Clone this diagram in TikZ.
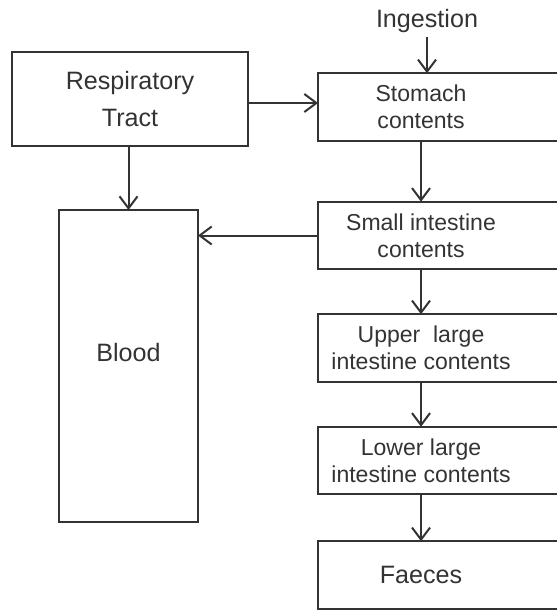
\documentclass[tikz,border=0pt]{standalone}
\usepackage{fontspec}
\setmainfont{Liberation Sans}
\usetikzlibrary{arrows.meta}

\begin{document}
\begin{tikzpicture}[x=0.2mm, y=-0.2mm,
  line width=0.4mm, color=black!80,
  box/.style={draw, rectangle, outer sep=0pt, align=center,
              font=\fontsize{14.3}{21.5}\selectfont},
  gut/.style={rectangle, outer sep=0pt, align=center,
              minimum width=41.2mm, minimum height=13.5mm,
              font=\fontsize{13.1}{15.6}\selectfont},
  flow/.style={-{Straight Barb[length=2.4mm, width=3.6mm]}}
]
  \useasboundingbox (0,0) rectangle (556,610);

  % left column
  \node[box, minimum width=47mm, minimum height=18.8mm] (resp) at (130,99) {Respiratory\\Tract};
  \node[box, minimum width=27.8mm, minimum height=62.4mm, text depth=5.6mm] (blood) at (128.5,366) {Blood};

  % gut compartments, boxes run off the right edge
  \node[inner sep=2pt, font=\fontsize{14.3}{17}\selectfont] (ingestion) at (427,21) {Ingestion};
  \node[gut] (stomach) at (421,107) {Stomach\\contents};
  \node[gut] (small) at (421,235.5) {Small intestine\\contents};
  \node[gut] (upper) at (421,348) {Upper\ \ large\\intestine contents};
  \node[gut] (lower) at (421,460.5) {Lower large\\intestine contents};
  \node[gut, font=\fontsize{14.3}{17}\selectfont] (faeces) at (421,575) {Faeces};

  \foreach \n in {stomach, small, upper, lower, faeces}
    \draw ([xshift=2cm]\n.north east) -- (\n.north west) -- (\n.south west) -- ([xshift=2cm]\n.south east);

  % transfers
  \draw[flow] (ingestion) -- (ingestion |- stomach.north);
  \draw[flow] ([yshift=-0.8mm]resp.east) -- ([yshift=-0.8mm]resp.east -| stomach.west);
  \draw[flow] (resp.south -| blood.north) -- (blood.north);
  \draw[flow] (stomach) -- (small);
  \draw[flow] (small.west) -- (small.west -| blood.east);
  \draw[flow] (small) -- (upper);
  \draw[flow] (upper) -- (lower);
  \draw[flow] (lower) -- (faeces);
\end{tikzpicture}
\end{document}
